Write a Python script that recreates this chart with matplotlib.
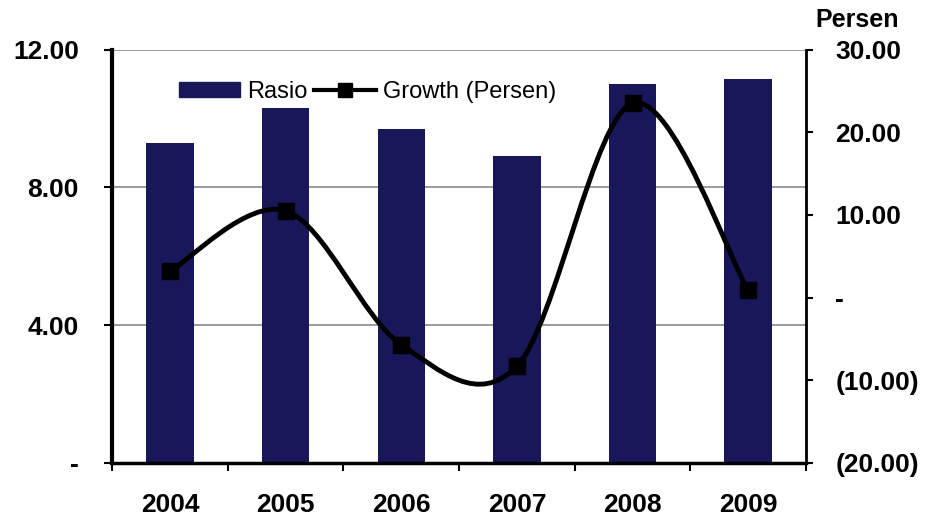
import numpy as np
import matplotlib.pyplot as plt
from matplotlib.path import Path
from matplotlib.patches import PathPatch
from matplotlib.lines import Line2D
from matplotlib.ticker import FuncFormatter

plt.rcParams['font.family'] = ['Liberation Sans', 'DejaVu Sans']

# data
years = ['2004', '2005', '2006', '2007', '2008', '2009']
rasio = [9.3, 10.3, 9.7, 8.9, 11.0, 11.15]
growth = [3.2, 10.5, -5.7, -8.3, 23.5, 0.9]

left_ticks = [0, 4, 8, 12]
right_ticks = [-20, -10, 0, 10, 20, 30]

navy = '#17175a'
fs = 19

fig = plt.figure(figsize=(9.35, 5.23), dpi=100)
ax = fig.add_axes([0.12, 0.115, 0.742, 0.79])
ax2 = ax.twinx()

x = np.arange(len(years))
ax.bar(x, rasio, width=0.41, color=navy, zorder=2)
ax.set_xlim(-0.5, len(years) - 0.5)
ax.set_ylim(0, 12)
ax.set_yticks(left_ticks)
ax.yaxis.set_major_formatter(FuncFormatter(lambda v, p: '-' if v == 0 else f'{v:.2f}'))
ax.yaxis.grid(True, color='#8a8a8a', lw=1.2, zorder=0)
ax.set_axisbelow(True)

ax.set_xticks(x)
ax.set_xticklabels(years)
ax.set_xticks(np.arange(len(years) + 1) - 0.5, minor=True)
ax.tick_params(axis='x', which='major', length=0, pad=22, labelsize=fs)
ax.tick_params(axis='x', which='minor', length=6, width=1.5, direction='out')
ax.tick_params(axis='y', length=6, width=1.5, labelsize=fs, pad=18)
for lab in ax.get_xticklabels() + ax.get_yticklabels():
    lab.set_fontweight('bold')

ax.spines['top'].set_visible(False)
ax2.spines['top'].set_visible(False)
ax.spines['left'].set_linewidth(3)
ax.spines['bottom'].set_linewidth(2.5)
ax2.spines['right'].set_linewidth(2)
ax2.spines['left'].set_visible(False)
ax2.spines['bottom'].set_visible(False)

# smoothed growth line (Bezier through the points, like a spreadsheet "smoothed line")
ax2.set_ylim(-20, 30)
ax2.set_yticks(right_ticks)


def pct_fmt(v, p):
    if v == 0:
        return '-'
    if v < 0:
        return f'({-v:.2f})'
    return f'{v:.2f}'


ax2.yaxis.set_major_formatter(FuncFormatter(pct_fmt))
ax2.tick_params(axis='y', length=5, width=1.5, labelsize=fs, pad=16)
for lab in ax2.get_yticklabels():
    lab.set_fontweight('bold')

pts = np.column_stack([x, growth]).astype(float)
verts = [pts[0]]
codes = [Path.MOVETO]
n = len(pts)
for i in range(n - 1):
    p0 = pts[max(i - 1, 0)]
    p1 = pts[i]
    p2 = pts[i + 1]
    p3 = pts[min(i + 2, n - 1)]
    verts += [p1 + (p2 - p0) / 6, p2 - (p3 - p1) / 6, p2]
    codes += [Path.CURVE4] * 3
ax2.add_patch(PathPatch(Path(verts, codes), fill=False, lw=3.5, ec='black',
                        capstyle='round', zorder=3))
ax2.plot(x, growth, ls='none', marker='s', ms=11, color='black', zorder=4)

fig.text(0.872, 0.962, 'Persen', fontsize=18, fontweight='bold', ha='left', va='center')

handles = [plt.Rectangle((0, 0), 1, 1, color=navy),
           Line2D([], [], color='black', lw=3, marker='s', ms=10)]
leg = ax2.legend(handles, ['Rasio', 'Growth (Persen)'], ncol=2, frameon=False,
                 loc='upper left', bbox_to_anchor=(0.065, 0.975), fontsize=17,
                 handlelength=2.6, handleheight=0.6, columnspacing=0.3, handletextpad=0.3)

fig.savefig('out.png', dpi=100)
